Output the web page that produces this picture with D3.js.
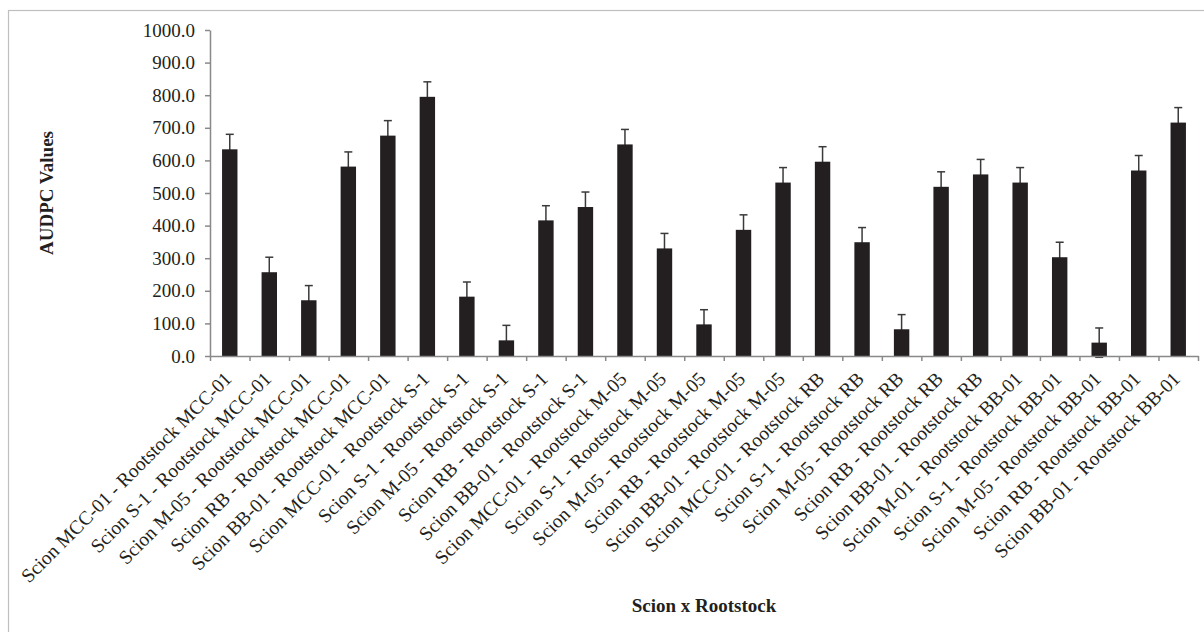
<!DOCTYPE html>
<html>
<head>
<meta charset="utf-8">
<script src="https://cdn.jsdelivr.net/npm/d3@7"></script>
<style>
  body { margin: 0; background: #fff; }
  text { font-family: "Liberation Serif", "Times New Roman", serif; fill: #231f20; }
</style>
</head>
<body>
<div id="chart"></div>
<script>
// Scion x Rootstock combinations
var categories = [
    "Scion MCC-01 - Rootstock MCC-01",
    "Scion S-1 - Rootstock MCC-01",
    "Scion M-05 - Rootstock MCC-01",
    "Scion RB - Rootstock MCC-01",
    "Scion BB-01 - Rootstock MCC-01",
    "Scion MCC-01 - Rootstock S-1",
    "Scion S-1 - Rootstock S-1",
    "Scion M-05 - Rootstock S-1",
    "Scion RB - Rootstock S-1",
    "Scion BB-01 - Rootstock S-1",
    "Scion MCC-01 - Rootstock M-05",
    "Scion S-1 - Rootstock M-05",
    "Scion M-05 - Rootstock M-05",
    "Scion RB - Rootstock M-05",
    "Scion BB-01 - Rootstock M-05",
    "Scion MCC-01 - Rootstock RB",
    "Scion S-1 - Rootstock RB",
    "Scion M-05 - Rootstock RB",
    "Scion RB - Rootstock RB",
    "Scion BB-01 - Rootstock RB",
    "Scion M-01 - Rootstock BB-01",
    "Scion S-1 - Rootstock BB-01",
    "Scion M-05 - Rootstock BB-01",
    "Scion RB - Rootstock BB-01",
    "Scion BB-01 - Rootstock BB-01"
];

// AUDPC means and error bar sizes
var audpc = [634, 257, 171, 581, 676, 795, 182, 48, 416, 457, 649, 330, 97, 387, 532,
             596, 349, 82, 519, 557, 532, 303, 41, 569, 716];
var errors = [46, 46, 45, 45, 46, 46, 45, 46, 45, 46, 46, 46, 45, 46, 46,
              46, 45, 45, 46, 46, 46, 46, 45, 46, 46];

var yTicks = [0, 100, 200, 300, 400, 500, 600, 700, 800, 900, 1000];

var svgWidth = 1204;
var svgHeight = 632;

var margin = { top: 30, right: 6, bottom: 276, left: 210 };

var width = svgWidth - margin.left - margin.right;
var height = svgHeight - margin.top - margin.bottom;

var data = categories.map(function (c, i) {
    return { name: c, value: audpc[i], err: errors[i] };
});

var svg = d3.select("#chart")
    .append("svg")
    .attr("width", svgWidth)
    .attr("height", svgHeight);

// outer chart frame
svg.append("rect")
    .attr("x", 8.5)
    .attr("y", 10.5)
    .attr("width", svgWidth + 20)
    .attr("height", svgHeight + 20)
    .attr("fill", "none")
    .attr("stroke", "#bfbfbf")
    .attr("stroke-width", 1.2);

var chartGroup = svg.append("g")
    .attr("transform", `translate(${margin.left}, ${margin.top})`);

// scales
var xScale = d3.scaleBand()
    .domain(categories)
    .range([0, width])
    .paddingInner(0.61)
    .paddingOuter(0.305);

var xTickScale = d3.scaleLinear()
    .domain([0, categories.length])
    .range([0, width]);

var yScale = d3.scaleLinear()
    .domain([0, 1000])
    .range([height, 0]);

// y axis
var yAxis = d3.axisLeft(yScale)
    .tickValues(yTicks)
    .tickFormat(d3.format(".1f"))
    .tickSize(5)
    .tickSizeOuter(0)
    .tickPadding(10);

var yAxisG = chartGroup.append("g").call(yAxis);
yAxisG.selectAll("text")
    .style("font-size", "19px")
    .attr("fill", "#231f20");

// error bars (drawn first so the lower half hides behind the bars)
var errG = chartGroup.selectAll("g.err")
    .data(data)
    .enter()
    .append("g")
    .attr("class", "err")
    .attr("stroke", "#3a3a3a")
    .attr("stroke-width", 1.5);

errG.append("line")
    .attr("x1", d => xScale(d.name) + xScale.bandwidth() / 2)
    .attr("x2", d => xScale(d.name) + xScale.bandwidth() / 2)
    .attr("y1", d => yScale(d.value - d.err))
    .attr("y2", d => yScale(d.value + d.err));

errG.append("line")
    .attr("x1", d => xScale(d.name) + xScale.bandwidth() / 2 - 4)
    .attr("x2", d => xScale(d.name) + xScale.bandwidth() / 2 + 4)
    .attr("y1", d => yScale(d.value + d.err))
    .attr("y2", d => yScale(d.value + d.err));

errG.append("line")
    .attr("x1", d => xScale(d.name) + xScale.bandwidth() / 2 - 4)
    .attr("x2", d => xScale(d.name) + xScale.bandwidth() / 2 + 4)
    .attr("y1", d => yScale(d.value - d.err))
    .attr("y2", d => yScale(d.value - d.err));

// bars
chartGroup.selectAll("rect.bar")
    .data(data)
    .enter()
    .append("rect")
    .attr("class", "bar")
    .attr("x", d => xScale(d.name))
    .attr("y", d => yScale(d.value))
    .attr("width", xScale.bandwidth())
    .attr("height", d => height - yScale(d.value))
    .attr("fill", "#231f20");

// x axis: boundary ticks
chartGroup.append("g")
    .attr("class", "xticks")
    .attr("transform", `translate(0, ${height})`)
    .call(d3.axisBottom(xTickScale)
        .tickValues(d3.range(categories.length + 1))
        .tickFormat("")
        .tickSize(5)
        .tickSizeOuter(0));

// x axis: category labels
var xAxisG = chartGroup.append("g")
    .attr("transform", `translate(0, ${height})`)
    .call(d3.axisBottom(xScale).tickSize(0).tickSizeOuter(0));

xAxisG.select(".domain").remove();
xAxisG.selectAll("text")
    .attr("x", 0)
    .attr("y", 0)
    .attr("dy", 0)
    .attr("transform", "translate(3, 24) rotate(-45)")
    .style("text-anchor", "end")
    .style("font-size", "19.5px")
    .attr("fill", "#231f20");

chartGroup.selectAll(".domain, .tick line")
    .attr("stroke", "#898989")
    .attr("stroke-width", 1.5);

// axis titles
chartGroup.append("text")
    .attr("transform", "rotate(-90)")
    .attr("x", 0 - (height / 2))
    .attr("y", 53 - margin.left)
    .attr("text-anchor", "middle")
    .style("font-size", "19px")
    .style("font-weight", "bold")
    .text("AUDPC Values");

chartGroup.append("text")
    .attr("x", width / 2)
    .attr("y", 612 - margin.top)
    .attr("text-anchor", "middle")
    .style("font-size", "19px")
    .style("font-weight", "bold")
    .text("Scion x Rootstock");
</script>
</body>
</html>
